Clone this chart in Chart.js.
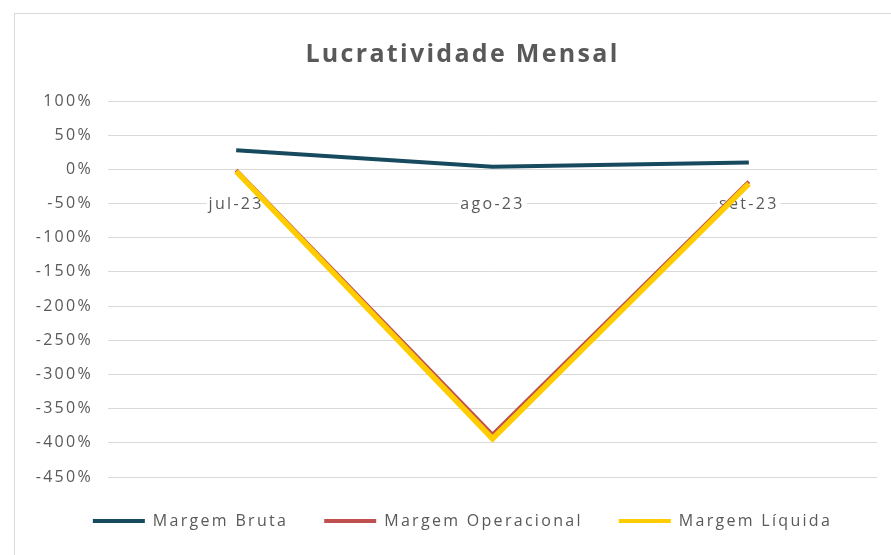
<!DOCTYPE html>
<html>
<head>
<meta charset="utf-8">
<script src="https://cdn.jsdelivr.net/npm/chart.js@4/dist/chart.umd.min.js"></script>
<style>
    html, body { margin: 0; padding: 0; background: #fff; }
    #wrap { width: 891px; height: 555px; }
</style>
</head>
<body>
<div id="wrap"><canvas id="chart" width="891" height="555"></canvas></div>
<script>
// Chart data
const months = ['jul-23', 'ago-23', 'set-23'];
const margemBruta = [28, 4, 10];
const margemOperacional = [-1, -388, -18];
const margemLiquida = [-3, -394, -21];
const yTicks = [100, 50, 0, -50, -100, -150, -200, -250, -300, -350, -400, -450];

const textColor = '#595959';
const gridColor = '#d9d9d9';

// The spreadsheet export has wide text; canvas letterSpacing mimics that.
// Set before every layout because a canvas resize resets the context state.
const spacingPlugin = {
    id: 'spacing',
    beforeUpdate(chart) {
        chart.ctx.letterSpacing = '2.3px';
    },
    // title and legend sit a bit right of the canvas centre in the original
    afterLayout(chart) {
        [chart.titleBlock, chart.legend].forEach(box => {
            if (!box) return;
            box.left += 11;
            box.right += 11;
        });
    }
};

// Light frame around the chart, as in the spreadsheet export
const framePlugin = {
    id: 'frame',
    beforeDraw(chart) {
        const ctx = chart.ctx;
        ctx.save();
        ctx.fillStyle = '#fff';
        ctx.fillRect(0, 0, chart.width, chart.height);
        ctx.strokeStyle = gridColor;
        ctx.lineWidth = 1;
        ctx.strokeRect(14.5, 13.5, chart.width + 20, chart.height + 20);
        ctx.restore();
    }
};

const ctx = document.getElementById('chart').getContext('2d');
new Chart(ctx, {
    type: 'line',
    data: {
        labels: months,
        datasets: [
            {
                label: 'Margem Bruta',
                data: margemBruta,
                borderColor: '#174A5E',
                backgroundColor: '#174A5E',
                borderWidth: 4,
                order: 2
            },
            {
                label: 'Margem Operacional',
                data: margemOperacional,
                borderColor: '#C0504D',
                backgroundColor: '#C0504D',
                borderWidth: 4,
                order: 1
            },
            {
                label: 'Margem Líquida',
                data: margemLiquida,
                borderColor: '#FFCC00',
                backgroundColor: '#FFCC00',
                borderWidth: 5.5,
                order: 0
            }
        ]
    },
    options: {
        responsive: false,
        animation: false,
        elements: {
            point: { radius: 0 },
            line: { tension: 0, borderCapStyle: 'butt' }
        },
        layout: {
            padding: { top: 30, left: 26, right: 14, bottom: 16 }
        },
        scales: {
            x: {
                position: { y: 0 },
                offset: true,
                grid: { display: false },
                border: { display: false },
                ticks: {
                    color: textColor,
                    padding: 17,
                    font: { family: 'Open Sans', size: 16 },
                    showLabelBackdrop: true,
                    backdropColor: '#fff',
                    backdropPadding: 2
                },
                afterFit: scale => { scale.height = 0; }
            },
            y: {
                min: -450,
                max: 100,
                afterBuildTicks: scale => {
                    scale.ticks = yTicks.map(v => ({ value: v }));
                },
                afterFit: scale => { scale.width = 82; },
                grid: { color: gridColor, drawTicks: false },
                border: { display: false },
                ticks: {
                    color: textColor,
                    padding: 15,
                    font: { family: 'Open Sans', size: 16 },
                    callback: value => value + '%'
                }
            }
        },
        plugins: {
            title: {
                display: true,
                text: 'Lucratividade Mensal',
                color: textColor,
                font: { family: 'Open Sans', size: 25, weight: 'bold' },
                padding: { top: 10, bottom: 31 }
            },
            legend: {
                position: 'bottom',
                labels: {
                    color: textColor,
                    boxWidth: 52,
                    boxHeight: 4,
                    padding: 36,
                    font: { family: 'Open Sans', size: 16 },
                    generateLabels: chart => chart.data.datasets.map((ds, i) => ({
                        text: ds.label,
                        fillStyle: ds.borderColor,
                        strokeStyle: ds.borderColor,
                        lineWidth: 0,
                        hidden: false,
                        datasetIndex: i,
                        fontColor: textColor
                    }))
                }
            },
            tooltip: { enabled: false }
        }
    },
    plugins: [spacingPlugin, framePlugin]
});
</script>
</body>
</html>
